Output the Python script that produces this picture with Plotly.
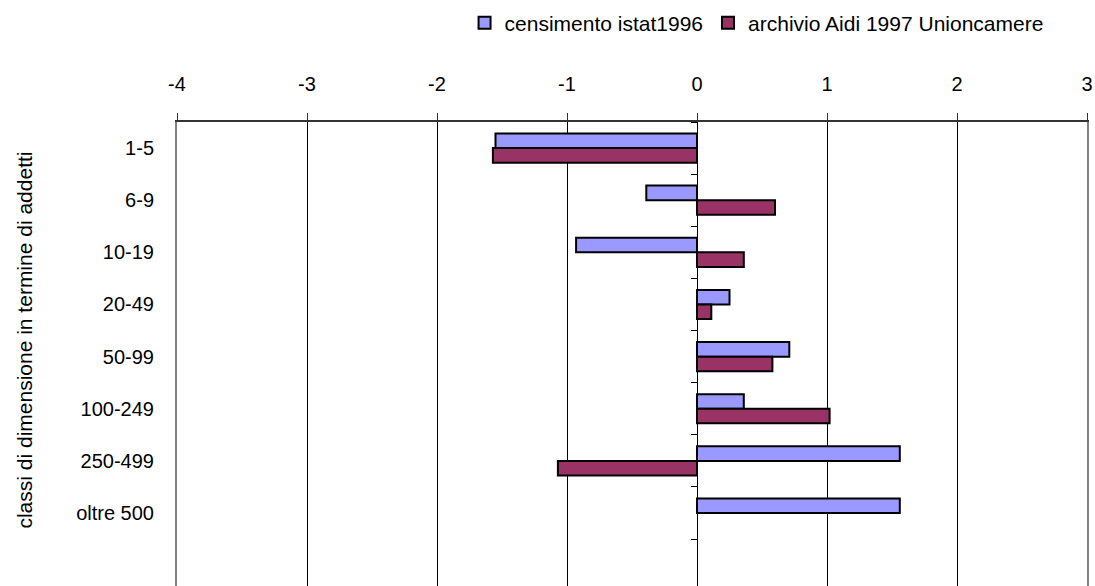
import plotly.graph_objects as go

categories = ["1-5", "6-9", "10-19", "20-49", "50-99", "100-249", "250-499", "oltre 500"]
censimento = [-1.55, -0.39, -0.93, 0.25, 0.71, 0.36, 1.56, 1.56]
archivio = [-1.57, 0.60, 0.36, 0.11, 0.58, 1.02, -1.07, None]
x_ticks = [-4, -3, -2, -1, 0, 1, 2, 3]
series_names = ["censimento istat1996", "archivio Aidi 1997 Unioncamere"]
y_title = "classi di dimensione in termine di addetti"

FONT = "Liberation Sans, Arial, sans-serif"
y_range = [8.399, -0.5]
boundaries = [i - 0.5 for i in range(len(categories) + 2)]

fig = go.Figure()
fig.add_trace(go.Bar(
    y=categories, x=censimento, orientation="h", name=series_names[0],
    marker=dict(color="#9999FF", line=dict(color="#000000", width=2)),
))
fig.add_trace(go.Bar(
    y=categories, x=archivio, orientation="h", name=series_names[1],
    marker=dict(color="#993366", line=dict(color="#000000", width=2)),
))
# helper trace so the category axis crossing at zero is drawn
fig.add_trace(go.Scatter(x=[], y=[], yaxis="y2", showlegend=False, hoverinfo="skip"))

fig.update_layout(
    width=1095, height=586,
    margin=dict(l=177, r=8, t=122, b=0, pad=0),
    paper_bgcolor="white", plot_bgcolor="white",
    font=dict(family=FONT, size=20, color="black"),
    barmode="group", bargap=0.44, bargroupgap=0,
    showlegend=True,
    legend=dict(
        orientation="h", x=0.316, xanchor="left", y=1.213, yanchor="middle",
        font=dict(size=21), traceorder="normal", itemwidth=30,
        bgcolor="rgba(0,0,0,0)",
    ),
    xaxis=dict(
        side="top", range=[x_ticks[0], x_ticks[-1]], tickmode="array", tickvals=x_ticks,
        ticktext=[str(v) for v in x_ticks],
        showgrid=True, gridcolor="#000000", gridwidth=1, zeroline=False,
        showline=True, linecolor="#333333", linewidth=2,
        ticks="outside", ticklen=7, tickcolor="#333333", tickwidth=1,
        ticklabelstandoff=14, tickfont=dict(size=20),
    ),
    yaxis=dict(
        type="category", categoryorder="array", categoryarray=categories,
        range=y_range, showgrid=False, zeroline=False,
        showline=True, linecolor="#808080", linewidth=2, mirror=True,
        ticks="", ticklabelstandoff=17, tickfont=dict(size=20),
    ),
    yaxis2=dict(
        overlaying="y", anchor="free", position=4 / 7, side="left",
        range=y_range, showgrid=False, zeroline=False,
        showline=True, linecolor="#000000", linewidth=1,
        ticks="outside", ticklen=6, tickcolor="#000000", tickwidth=1,
        tickmode="array", tickvals=boundaries, showticklabels=False,
    ),
    annotations=[dict(
        text=y_title, textangle=-90, xref="paper", yref="paper",
        x=-0.1676, y=0.53, xanchor="center", yanchor="middle",
        showarrow=False, font=dict(size=21, family=FONT),
    )],
)

fig.write_html("out.html")
